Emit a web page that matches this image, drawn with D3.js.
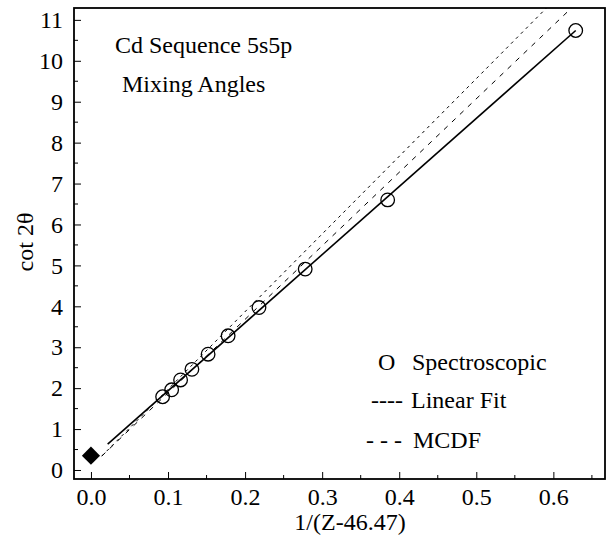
<!DOCTYPE html>
<html>
<head>
<meta charset="utf-8">
<script src="https://cdn.jsdelivr.net/npm/d3@7"></script>
<style>
  body { margin: 0; background: #fff; }
  text { font-family: "Liberation Serif", "Times New Roman", serif; fill: #000; }
</style>
</head>
<body>
<div id="chart"></div>
<script>
// spectroscopic mixing angles
const xVals = [0.093, 0.1047, 0.1163, 0.131, 0.152, 0.178, 0.218, 0.278, 0.385, 0.629];
const yVals = [1.79, 1.96, 2.20, 2.46, 2.83, 3.28, 3.97, 4.91, 6.60, 10.74];
// solid line through the data
const solidX = [0.0217, 0.629];
const solidY = [0.63, 10.74];
// dashed lines
const fitX = [0.014, 0.591];
const fitY = [0.34, 11.29];
const mcdfX = [0.014, 0.6235];
const mcdfY = [0.34, 11.29];
// diamond at Z -> infinity
const limitX = [0.0];
const limitY = [0.35];

const xTicks = [0, 0.1, 0.2, 0.3, 0.4, 0.5, 0.6];
const yTicks = [0, 1, 2, 3, 4, 5, 6, 7, 8, 9, 10, 11];

const width = 613;
const height = 548;
const mLeft = 74, mRight = 605, mTop = 8, mBottom = 479;
const fontSize = '24px';

const svg = d3.select('#chart')
    .append('svg')
    .attr('width', width)
    .attr('height', height);

const x = d3.scaleLinear().domain([-0.022, 0.667]).range([mLeft, mRight]);
const y = d3.scaleLinear().domain([-0.22, 11.29]).range([mBottom, mTop]);

svg.append('clipPath').attr('id', 'plot')
    .append('rect')
    .attr('x', mLeft).attr('y', mTop)
    .attr('width', mRight - mLeft).attr('height', mBottom - mTop);

// minor ticks
const xMinor = d3.range(0.05, 0.66, 0.1);
const yMinor = d3.range(0.5, 11.2, 1);

const xAxis = svg.append('g')
    .attr('transform', `translate(0,${mBottom})`)
    .call(d3.axisBottom(x).tickValues(xTicks).tickFormat(d3.format('.1f'))
        .tickSizeInner(-7).tickSizeOuter(0).tickPadding(9));
xAxis.append('g').selectAll('line').data(xMinor).join('line')
    .attr('x1', d => x(d)).attr('x2', d => x(d))
    .attr('y1', 0).attr('y2', -4).attr('stroke', '#000');

const yAxis = svg.append('g')
    .attr('transform', `translate(${mLeft},0)`)
    .call(d3.axisLeft(y).tickValues(yTicks)
        .tickSizeInner(-7).tickSizeOuter(0).tickPadding(11));
yAxis.append('g').selectAll('line').data(yMinor).join('line')
    .attr('x1', 0).attr('x2', 4)
    .attr('y1', d => y(d)).attr('y2', d => y(d)).attr('stroke', '#000');

svg.selectAll('.domain').remove();
svg.selectAll('.tick line').attr('stroke', '#000');
svg.selectAll('.tick text')
    .style('font-family', '"Liberation Serif", serif')
    .style('font-size', fontSize)
    .attr('fill', '#000');

// frame
svg.append('rect')
    .attr('x', mLeft).attr('y', mTop)
    .attr('width', mRight - mLeft).attr('height', mBottom - mTop)
    .attr('fill', 'none').attr('stroke', '#000').attr('stroke-width', 1.8);

const line = d3.line().x(d => x(d[0])).y(d => y(d[1]));
const plot = svg.append('g').attr('clip-path', 'url(#plot)');

plot.append('path')
    .datum(d3.zip(fitX, fitY))
    .attr('d', line)
    .attr('fill', 'none').attr('stroke', '#000').attr('stroke-width', 1)
    .attr('stroke-dasharray', '3,4');

plot.append('path')
    .datum(d3.zip(mcdfX, mcdfY))
    .attr('d', line)
    .attr('fill', 'none').attr('stroke', '#000').attr('stroke-width', 1)
    .attr('stroke-dasharray', '5,6');

plot.append('path')
    .datum(d3.zip(solidX, solidY))
    .attr('d', line)
    .attr('fill', 'none').attr('stroke', '#000').attr('stroke-width', 1.6);

plot.selectAll('circle')
    .data(d3.zip(xVals, yVals))
    .join('circle')
    .attr('cx', d => x(d[0]))
    .attr('cy', d => y(d[1]))
    .attr('r', 6.8)
    .attr('fill', 'none')
    .attr('stroke', '#000')
    .attr('stroke-width', 1.3);

plot.selectAll('.limit')
    .data(d3.zip(limitX, limitY))
    .join('path')
    .attr('class', 'limit')
    .attr('d', d3.symbol(d3.symbolSquare, 165))
    .attr('transform', d => `translate(${x(d[0])},${y(d[1])}) rotate(45)`)
    .attr('fill', '#000');

// labels
svg.append('text')
    .attr('x', 350).attr('y', 530)
    .attr('text-anchor', 'middle')
    .style('font-size', fontSize)
    .text('1/(Z-46.47)');

svg.append('text')
    .attr('transform', 'translate(33,242) rotate(-90)')
    .attr('text-anchor', 'middle')
    .style('font-size', fontSize)
    .text('cot 2θ');

svg.append('text')
    .attr('x', 115).attr('y', 53)
    .style('font-size', fontSize)
    .text('Cd Sequence 5s5p');

svg.append('text')
    .attr('x', 122).attr('y', 92)
    .style('font-size', fontSize)
    .text('Mixing Angles');

// legend
const legend = svg.append('g').style('font-size', fontSize);
legend.append('text').attr('x', 378).attr('y', 370).text('O');
legend.append('text').attr('x', 412).attr('y', 370).text('Spectroscopic');
legend.append('text').attr('x', 371).attr('y', 408).text('----');
legend.append('text').attr('x', 411).attr('y', 408).text('Linear Fit');
legend.append('text').attr('x', 366).attr('y', 448).text('- - -');
legend.append('text').attr('x', 413).attr('y', 448).text('MCDF');
</script>
</body>
</html>
